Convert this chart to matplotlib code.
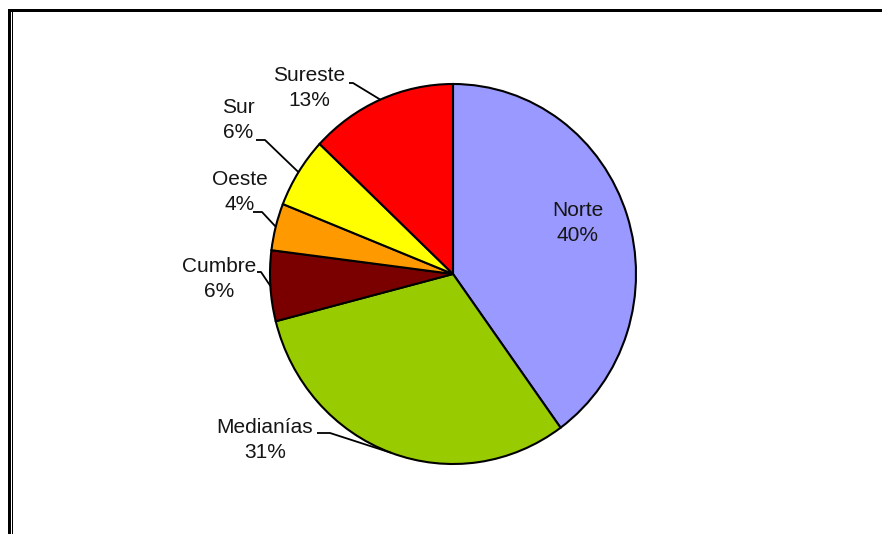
import numpy as np
import matplotlib.pyplot as plt
from matplotlib.patches import Rectangle

plt.rcParams["font.family"] = ["Liberation Sans", "DejaVu Sans"]

# Share of each zone (percent), drawn clockwise from 12 o'clock
zones = ["Norte", "Medianías", "Cumbre", "Oeste", "Sur", "Sureste"]
shares = [40, 31, 6, 4, 6, 13]
colors = ["#9999FF", "#99CC00", "#7A0000", "#FF9900", "#FFFF00", "#FF0000"]

W, H = 882, 534
CX, CY = 453, 274      # pie centre in pixels
RX, RY = 183, 190      # pie radii in pixels (slightly stretched vertically)

# label centre and leader start (pixels) for each zone; None = inside label
label_pos = {
    "Norte": (578, 223),
    "Medianías": (265, 440),
    "Cumbre": (219, 279),
    "Oeste": (240, 192),
    "Sur": (238, 120),
    "Sureste": (309, 88),
}
leader_start = {
    "Norte": None,
    "Medianías": [(317, 433), (330, 433)],
    "Cumbre": [(257, 272), (261, 272)],
    "Oeste": [(253, 212), (262, 212)],
    "Sur": [(256, 140), (265, 140)],
    "Sureste": [(349, 83), (353, 83)],
}


def to_data(x, y):
    return (x - CX) / RX, (CY - y) / RY


def main():
    fig = plt.figure(figsize=(W / 100, H / 100), dpi=100)
    ax = fig.add_axes([0, 0, 1, 1])

    wedges, _ = ax.pie(
        shares,
        colors=colors,
        startangle=90,
        counterclock=False,
        radius=1,
        wedgeprops=dict(edgecolor="black", linewidth=1.5),
    )
    ax.set_aspect("auto")
    x0, y0 = to_data(0, H)
    x1, y1 = to_data(W, 0)
    ax.set_xlim(x0, x1)
    ax.set_ylim(y0, y1)
    ax.axis("off")

    total = sum(shares)
    for w, name, val in zip(wedges, zones, shares):
        pct = round(100 * val / total)
        tx, ty = to_data(*label_pos[name])
        ax.text(tx, ty, f"{name}\n{pct}%", ha="center", va="center",
                fontsize=15, linespacing=1.36, color="#151515")
        if leader_start[name] is None:
            continue
        mid = np.deg2rad((w.theta1 + w.theta2) / 2)
        pts = [to_data(*p) for p in leader_start[name]]
        pts.append((np.cos(mid), np.sin(mid)))
        xs, ys = zip(*pts)
        ax.plot(xs, ys, color="black", linewidth=1.3, solid_capstyle="butt")

    # outer frame: heavy top and left rules with a thin inner line
    def px_rect(x, y, w, h):
        return Rectangle((x / W, 1 - (y + h) / H), w / W, h / H,
                         transform=fig.transFigure, color="black", lw=0)

    fig.patches.append(px_rect(8, 9, W - 8, 3))
    fig.patches.append(px_rect(8, 9, 3, H - 9))
    fig.patches.append(px_rect(12, 12, 1, H - 12))

    fig.savefig("out.png", dpi=100)


if __name__ == "__main__":
    main()
